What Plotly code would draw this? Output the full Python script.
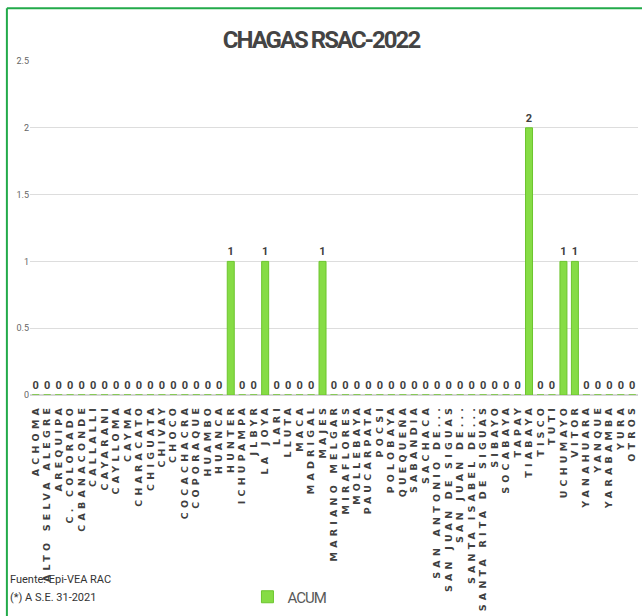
import plotly.graph_objects as go

# Districts of the RSAC network
districts = [
    "ACHOMA", "ALTO SELVA ALEGRE", "AREQUIPA", "C. COLORADO", "CABANACONDE",
    "CALLALLI", "CAYARANI", "CAYLLOMA", "CAYMA", "CHARACATO", "CHIGUATA",
    "CHIVAY", "CHOCO", "COCACHACRA", "COPORAQUE", "HUAMBO", "HUANCA",
    "HUNTER", "ICHUPAMPA", "JLBYR", "LA JOYA", "LARI", "LLUTA", "MACA",
    "MADRIGAL", "MAJES", "MARIANO MELGAR", "MIRAFLORES", "MOLLEBAYA",
    "PAUCARPATA", "POCSI", "POLOBAYA", "QUEQUEÑA", "SABANDIA", "SACHACA",
    "SAN ANTONIO DE...", "SAN JUAN DE SIGUAS", "SAN JUAN DE...",
    "SANTA ISABEL DE...", "SANTA RITA DE SIGUAS", "SIBAYO", "SOCABAYA",
    "TAPAY", "TIABAYA", "TISCO", "TUTI", "UCHUMAYO", "VITOR", "YANAHUARA",
    "YANQUE", "YARABAMBA", "YURA", "OTROS",
]

# Accumulated Chagas cases per district
acum = [
    0, 0, 0, 0, 0, 0, 0, 0, 0, 0, 0, 0, 0, 0, 0, 0, 0,
    1, 0, 0, 1, 0, 0, 0, 0, 1, 0, 0, 0, 0, 0, 0, 0, 0, 0,
    0, 0, 0, 0, 0, 0, 0, 0, 2, 0, 0, 1, 1, 0, 0, 0, 0, 0,
]

y_ticks = [0, 0.5, 1, 1.5, 2, 2.5]

NARROW = "Liberation Sans Narrow, Arial Narrow, Roboto, sans-serif"
WIDE = "DejaVu Sans, Verdana, sans-serif"

fig = go.Figure()
fig.add_trace(go.Bar(
    x=districts,
    y=acum,
    name="ACUM",
    marker=dict(color="#86DC45", line=dict(color="#6CC52E", width=1)),
    text=acum,
    texttemplate="%{text}",
    textposition="outside",
    textfont=dict(family=NARROW, size=11, color="#404040", weight="bold"),
    cliponaxis=False,
))

# Green frame (top and left edges)
frame = dict(type="line", xref="paper", yref="paper",
             line=dict(color="#22AA4A", width=2))
fig.add_shape(**frame, x0=-0.038, x1=1.02, y0=1.158, y1=1.158)
fig.add_shape(**frame, x0=-0.038, x1=-0.038, y0=1.158, y1=-0.7)

fig.add_annotation(text="Fuente: Epi-VEA RAC", xref="paper", yref="paper",
                   x=-0.036, y=-0.551, xanchor="left", yanchor="middle",
                   showarrow=False,
                   font=dict(family=NARROW, size=11, color="#333333"))
fig.add_annotation(text="(*) A S.E. 31-2021", xref="paper", yref="paper",
                   x=-0.036, y=-0.606, xanchor="left", yanchor="middle",
                   showarrow=False,
                   font=dict(family=NARROW, size=11, color="#333333"))

fig.update_layout(
    width=642, height=616,
    margin=dict(l=30, r=4, t=61, b=220),
    paper_bgcolor="white", plot_bgcolor="white",
    title=dict(text="<b>CHAGAS RSAC-2022</b>", x=0.5, xanchor="center",
               y=0.935, yanchor="middle",
               font=dict(family=NARROW, size=24, color="#444444")),
    bargap=0.39,
    showlegend=True,
    legend=dict(orientation="h", x=0.43, xanchor="center", y=-0.6,
                yanchor="middle", itemwidth=30,
                font=dict(family=NARROW, size=15, color="#595959")),
    xaxis=dict(
        type="category", tickangle=-90, showgrid=False,
        tickmode="linear", tick0=0, dtick=1,
        showline=False, ticks="", ticklabelstandoff=6,
        tickfont=dict(family=WIDE, size=9.5, color="#404040", weight="bold"),
    ),
    yaxis=dict(
        range=[0, 2.5], tickvals=y_ticks, ticktext=["0", "0.5", "1", "1.5", "2", "2.5"],
        showgrid=True, gridcolor="#DDDDDD", gridwidth=1,
        zeroline=True, zerolinecolor="#D5D5D5", zerolinewidth=2,
        tickfont=dict(family=NARROW, size=9, color="#666666"),
        ticks="", showline=False,
    ),
)

# Wider tracking on the district labels, tighter on the title and legend
spacing_css = (
    "var s=document.createElement('style');"
    "s.textContent='.xtick text{letter-spacing:4.2px;} .gtitle{letter-spacing:-2px;}"
    " .legendtext{letter-spacing:-1px;}';"
    "document.head.appendChild(s);"
)
fig.write_html("out.html", post_script=spacing_css)
